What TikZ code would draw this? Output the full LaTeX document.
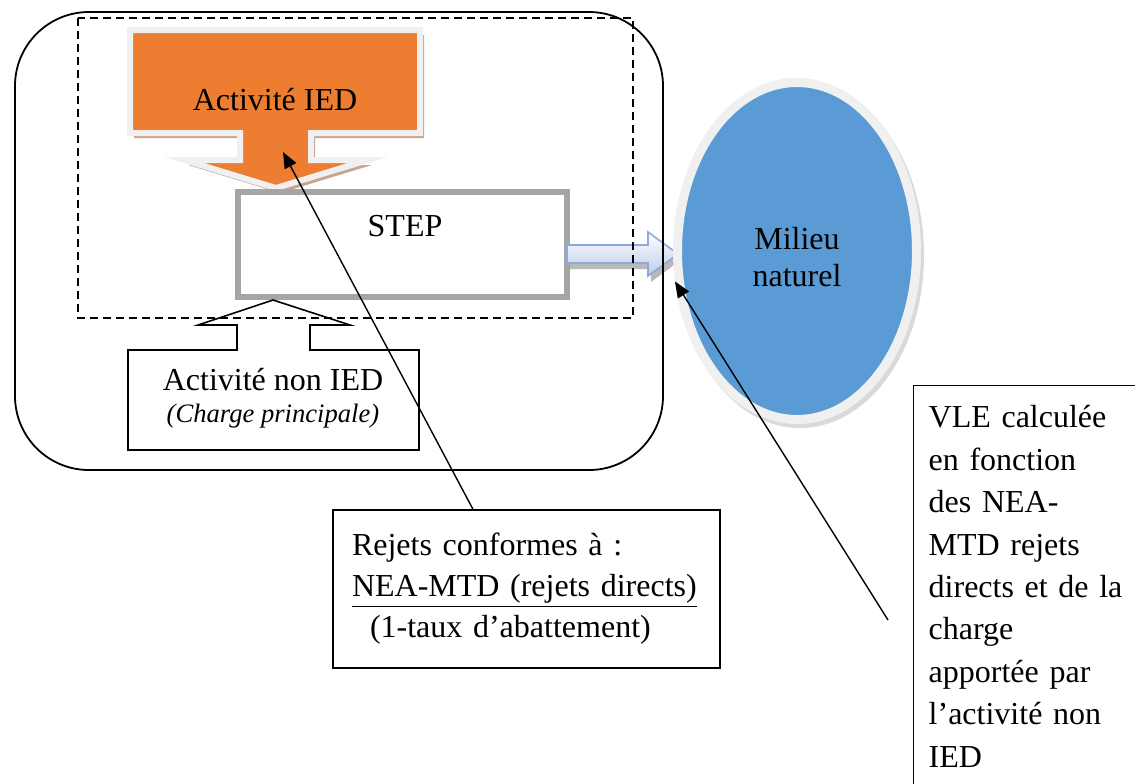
\documentclass[tikz,border=0pt]{standalone}
\usepackage{fontspec}
\setmainfont{Liberation Serif}
\usetikzlibrary{shapes.geometric,arrows.meta}
\definecolor{iedorange}{HTML}{ED7D31}
\definecolor{iedshadow}{HTML}{C8A48C}
\definecolor{milieublue}{HTML}{5B9BD5}
\definecolor{stepgray}{HTML}{A5A5A5}
\definecolor{rimgray}{HTML}{F0F0F0}
\definecolor{flowblue}{HTML}{8EAADB}
\tikzset{
  pointer/.style={line width=0.7pt,-{Triangle[length=8pt,width=6.5pt]}},
  txt/.style={font=\fontsize{16}{20.5}\selectfont},
  framebox/.style={draw,line width=0.7pt,txt}
}
\begin{document}
\begin{tikzpicture}[x=0.5pt,y=-0.5pt]
\useasboundingbox (0,0) rectangle (1135,783);
\begin{scope}
\clip (0,0) rectangle (1135,783);
\fill[iedshadow,shift={(4,5)}] (130,30) -- (420,30) -- (420,133) -- (311,133) -- (311,160) -- (368,160) -- (276,188) -- (184,160) -- (240,160) -- (240,133) -- (130,133) -- cycle;
\filldraw[fill=iedorange,draw=rimgray,line width=3pt] (130,30) -- (420,30) -- (420,133) -- (311,133) -- (311,160) -- (368,160) -- (276,188) -- (184,160) -- (240,160) -- (240,133) -- (130,133) -- cycle;
\node[txt] (ied) at (275,100) {Activité IED};
\node[draw=stepgray,line width=3pt,minimum width=164.5pt,minimum height=52.5pt,inner sep=0] (step) at (402.5,244.5) {};
\node[txt] (steptext) at (405,226) {STEP};
\fill[gray!55,shift={(3,6)}] (567,245) -- (648,245) -- (648,232) -- (678,254) -- (648,276) -- (648,263) -- (567,263) -- cycle;
\shadedraw[draw=flowblue,line width=0.8pt,top color=white,bottom color=flowblue!60] (567,245) -- (648,245) -- (648,232) -- (678,254) -- (648,276) -- (648,263) -- (567,263) -- cycle;
\draw[line width=0.9pt,rounded corners=37pt] (15,12) rectangle (663,470);
\draw[line width=0.6pt,dash pattern=on 4pt off 2.5pt] (78,18) rectangle (633,318);
\node[ellipse,fill=gray!30,minimum width=124pt,minimum height=173pt,inner sep=0] (milieushadow) at (800,255) {};
\node[ellipse,draw=rimgray,fill=milieublue,line width=4.5pt,minimum width=119.5pt,minimum height=168.5pt,inner sep=0] (milieu) at (797,251) {};
\node[align=center,font=\fontsize{16}{18.5}\selectfont] (milieutext) at (797,257) {Milieu\\naturel};
\draw[line width=0.8pt] (128,350) -- (237,350) -- (237,325) -- (198,325) -- (273,300) -- (350,325) -- (310,325) -- (310,350) -- (419,350) -- (419,450) -- (128,450) -- cycle;
\node[align=center,font=\fontsize{16}{16}\selectfont] (nonied) at (273,398) {Activité non IED\\{\fontsize{13.3}{16}\selectfont\itshape (Charge principale)}};
\node[framebox,text width=174.5pt,inner xsep=9.5pt,minimum height=79pt,align=left] (rejets) at (526.5,589) {Rejets conformes à :\\\underline{NEA-MTD (rejets directs)}\\\hspace*{9pt}(1-taux d’abattement)};
\node[framebox,anchor=north west,text width=110pt,inner xsep=7.5pt,inner ysep=10pt,align=left,font=\fontsize{16}{21.2}\selectfont] (vle) at (913,385) {VLE calculée\\en fonction\\des NEA-\\MTD rejets\\directs et de la\\charge\\apportée par\\l’activité non\\IED};
\coordinate (iedpt) at (283,152);
\coordinate (vlept) at (888,620);
\draw[pointer] ([xshift=-26.75pt]rejets.north) -- (iedpt);
\draw[pointer] (vlept) -- (milieu.194);
\end{scope}
\end{tikzpicture}
\end{document}
